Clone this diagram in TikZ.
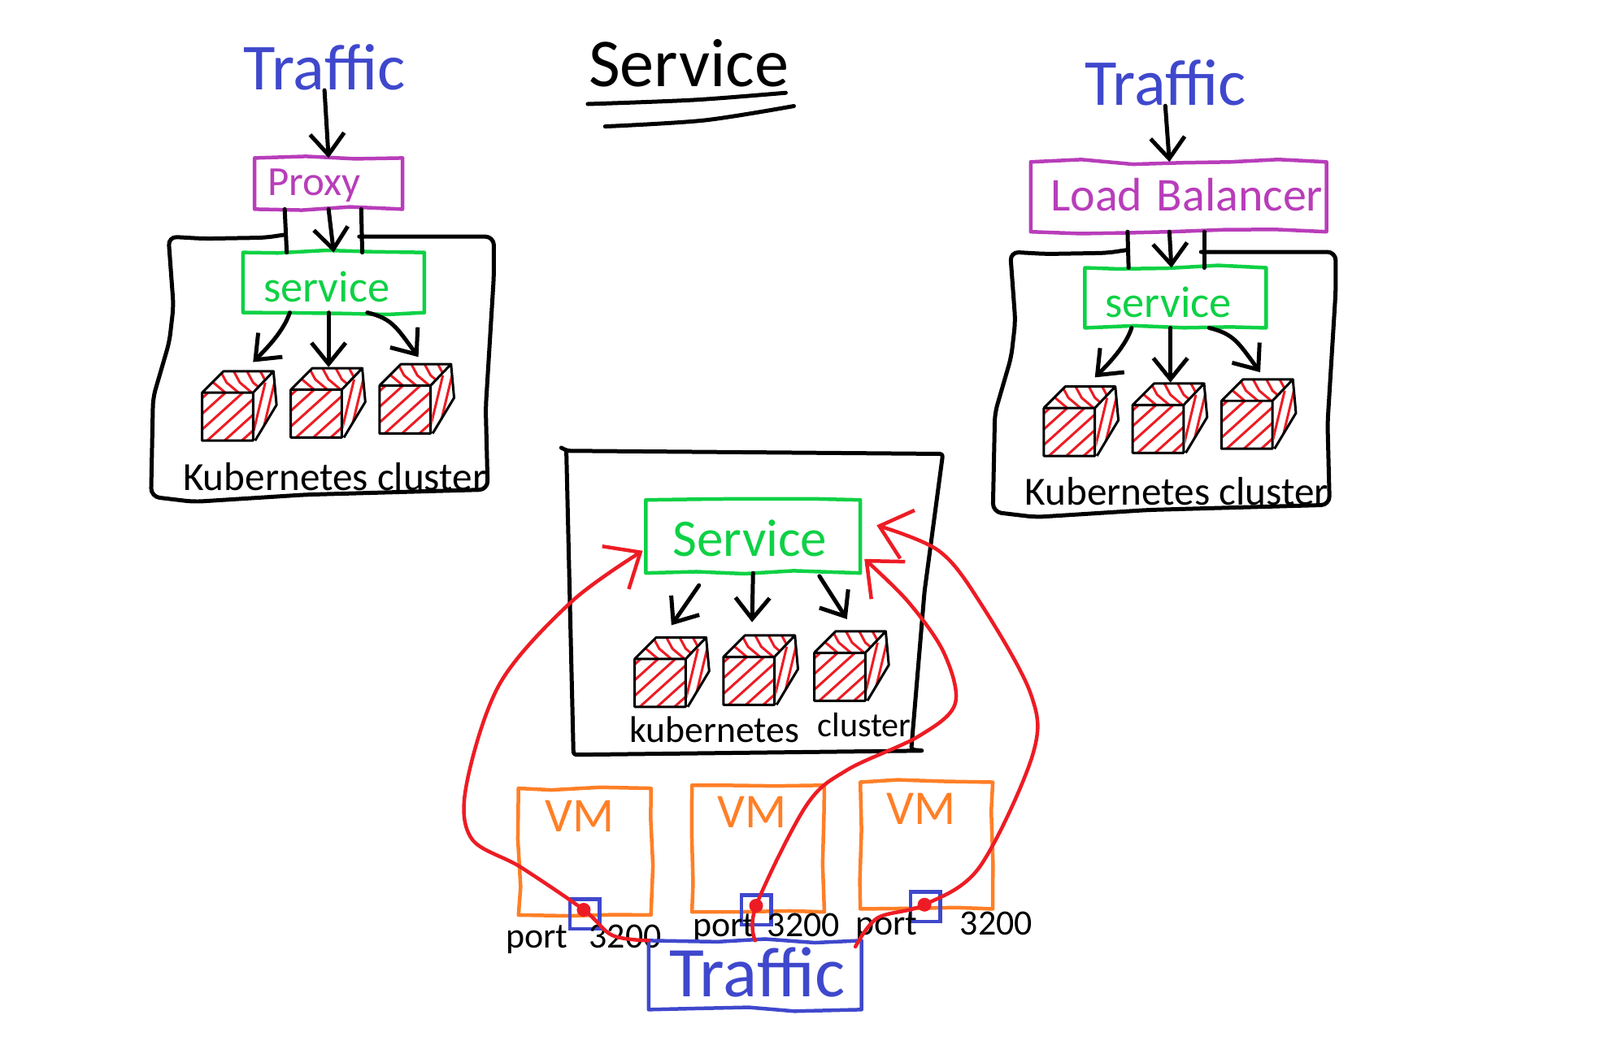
\documentclass[tikz,border=0pt]{standalone}
\usepackage{fontspec}
\setmainfont{Carlito}
\usepackage{xcolor}
\usetikzlibrary{arrows.meta}
\usetikzlibrary{calc}
\usetikzlibrary{decorations.pathmorphing}

\definecolor{handblue}{HTML}{3F48CC}
\definecolor{handpurple}{HTML}{B83DBA}
\definecolor{handgreen}{HTML}{0ED145}
\definecolor{handorange}{HTML}{FF7F27}
\definecolor{handred}{HTML}{ED1C24}

\newcommand{\fsize}[1]{\fontsize{#1}{#1}\selectfont}

\tikzset{
  wobbly/.style={draw, line width=0.045cm, line join=round, inner sep=0, outer sep=0,
    decorate, decoration={random steps, segment length=0.6cm, amplitude=0.3mm}},
  word/.style={inner sep=0, outer sep=0},
  edge/.style={line width=0.05cm, line cap=round},
  arrow/.style={edge, -{Straight Barb[length=0.26cm, width=0.42cm]}},
  frame/.style={line width=0.05cm, line cap=round, line join=round, rounded corners=3pt},
  hatch/.style={handred, line width=0.03cm},
  redline/.style={handred, line width=0.045cm, line cap=round,
    -{Straight Barb[length=0.36cm, width=0.62cm]}},
  portbox/.style={draw=handblue, line width=0.045cm, inner sep=0, minimum size=0.365cm},
  reddot/.style={circle, fill=handred, inner sep=0, minimum size=0.17cm},
  vmbox/.style={wobbly, handorange, minimum width=1.63cm, minimum height=1.56cm},
  vmword/.style={word, text=handorange, font=\fsize{17}},
  cube/.pic={
    % front face
    \begin{scope}
      \clip (0,0) rectangle (50,47);
      \foreach \s in {-46,-29,...,40} \draw[hatch] (\s,47) -- ++(52,-47);
    \end{scope}
    % top face
    \begin{scope}
      \clip (0,0) -- (21,-21) -- (70,-21) -- (50,0) -- cycle;
      \foreach \s in {4,17,...,64} \draw[hatch] (\s,-23) -- ++(7,13) -- ++(13,11);
    \end{scope}
    % side face
    \begin{scope}
      \clip (50,0) -- (70,-21) -- (73,12) -- (52,47) -- cycle;
      \foreach \s in {50,59,68} \draw[hatch] (\s,40) -- ++(12,-50);
    \end{scope}
    \draw[line width=0.03cm, line join=round]
      (0,0) rectangle (50,47)
      (0,0) -- (21,-21) -- (70,-21) -- (50,0)
      (70,-21) -- (73,12) -- (52,47);
  },
}

\begin{document}
\begin{tikzpicture}[x=0.012551cm, y=-0.012551cm]

  \useasboundingbox (0,0) rectangle (1568,1020);

  % title
  \node[word, font=\fsize{24}] (title) at (675,62) {Service};
  \draw[edge] plot[smooth] coordinates {(576,102) (680,98) (770,91)};
  \draw[edge] plot[smooth] coordinates {(593,124) (690,118) (778,104)};

  % traffic into the proxy
  \node[word, text=handblue, font=\fsize{23}] (trafficL) at (318,66) {Traffic};
  \node[wobbly, handpurple, minimum width=1.82cm, minimum height=0.63cm] (proxyL) at (322,180) {};
  \node[word, text=handpurple, font=\fsize{14.5}] (proxytext) at (308,182) {Proxy};
  \draw[arrow] (trafficL.south) -- (proxyL.north);

  % traffic into the load balancer
  \node[word, text=handblue, font=\fsize{23}] (trafficR) at (1142,81) {Traffic};
  \node[wobbly, handpurple, minimum width=3.64cm, minimum height=0.86cm] (balancerR) at (1155,193) {};
  \node[word, text=handpurple, font=\fsize{16.5}] (balancertext) at (1163,191) {Load\hspace{0.3em}Balancer};
  \draw[arrow] ($(balancerR.north)+(-13,-55)$) -- ($(balancerR.north)+(-9,0)$);

  % both outer clusters
  \foreach \n/\dx/\dy in {L/0/0, R/825/15} {
    \begin{scope}[shift={(\dx,\dy)}]
      \draw[frame] (280,230) -- (260,233) -- (200,234) -- (165,232) -- (170,300) -- (166,335)
        -- (150,390) -- (148,487) -- (190,492) -- (300,485) -- (478,480) -- (476,400)
        -- (484,270) -- (484,232) -- (352,232);
      \node[wobbly, handgreen, minimum width=2.23cm, minimum height=0.74cm] (service\n) at (327,277) {};
      \node[word, text=handgreen, font=\fsize{15.5}] (servicetext\n) at (320,281) {service};
      \pic at (198,385) {cube};
      \pic at (285,382) {cube};
      \pic at (372,378) {cube};
      \node[word, font=\fsize{14}] (clustertext\n) at (328,467) {Kubernetes cluster};
      \draw[arrow] ($(service\n.south)+(-43,0)$) .. controls +(-6,18) and +(14,-14) .. (248,355);
      \draw[arrow] ($(service\n.south)+(-5,0)$) -- (322,360);
      \draw[arrow] ($(service\n.south)+(33,0)$) .. controls +(24,6) and +(-22,-30) .. (410,350);
    \end{scope}
  }

  % feeds through the cluster top
  \draw[arrow] (proxyL.south) -- (serviceL.north);
  \draw[edge] ($(proxyL.south)+(-43,0)$) -- ($(serviceL.north)+(-46,0)$);
  \draw[edge] ($(proxyL.south)+(32,0)$) -- ($(serviceL.north)+(28,0)$);
  \draw[arrow] ($(balancerR.south)+(-9,0)$) -- ($(serviceR.north)+(-4,0)$);
  \draw[edge] ($(balancerR.south)+(-50,0)$) -- ($(serviceR.north)+(-46,0)$);
  \draw[edge] ($(balancerR.south)+(25,0)$) -- ($(serviceR.north)+(28,0)$);

  % middle cluster
  \draw[frame, rounded corners=1pt] (550,439) -- (556,442) -- (924,445) -- (906,580) -- (893,735)
    -- (905,736) -- (562,740) -- (555,442);
  \node[wobbly, handgreen, minimum width=2.64cm, minimum height=0.9cm] (serviceC) at (738,526) {};
  \node[word, text=handgreen, font=\fsize{18.5}] (servicetextC) at (735,528) {Service};
  \pic at (622,646) {cube};
  \pic at (709,644) {cube};
  \pic at (798,640) {cube};
  \node[word, font=\fsize{13}] (kubetext) at (700,715) {kubernetes};
  \node[word, font=\fsize{12}] (clustertext) at (847,711) {cluster};
  \draw[arrow] ($(serviceC.south)+(-53,12)$) -- (658,613);
  \draw[arrow] (serviceC.south) -- (737,610);
  \draw[arrow] ($(serviceC.south)+(65,3)$) -- (830,607);

  % virtual machines and their ports
  \node[vmbox] (vmA) at (573,835) {};
  \node[vmbox] (vmB) at (743,832) {};
  \node[vmbox] (vmC) at (908,829) {};
  \node[vmword] (vmtextA) at (568,800) {VM};
  \node[vmword] (vmtextB) at (737,796) {VM};
  \node[vmword] (vmtextC) at (903,793) {VM};
  \node[portbox] (portA) at (573,896) {};
  \node[portbox] (portB) at (741,892) {};
  \node[portbox] (portC) at (907,889) {};
  \node[reddot] (dotA) at (572,892) {};
  \node[reddot] (dotB) at (741,888) {};
  \node[reddot] (dotC) at (906,887) {};
  \node[word, font=\fsize{12.5}] (porttextA) at (572,921) {port\hspace{0.6em}3200};
  \node[word, font=\fsize{12.5}] (porttextB) at (751,910) {port\hspace{0.35em}3200};
  \node[word, font=\fsize{12.5}] (porttextC) at (925,908) {port\hspace{1.2em}3200};

  % outside traffic
  \node[wobbly, handblue, minimum width=2.62cm, minimum height=0.85cm] (trafficbox) at (740,956) {};
  \node[word, text=handblue, font=\fsize{25}] (traffictext) at (742,953) {Traffic};

  % node ports forward to the service
  \draw[redline] plot[smooth, tension=0.55] coordinates {(trafficbox.north west) (600,917) (dotA)
    (510,850) (462,822) (457,770) (490,670) (560,590) ($(serviceC.west)+(-3,14)$)};
  \draw[redline] plot[smooth, tension=0.55] coordinates {(trafficbox.north) (dotB) (790,790)
    (830,755) (900,722) (936,690) (925,640) (890,590) ($(serviceC.east)+(4,22)$)};
  \draw[redline] plot[smooth, tension=0.55] coordinates {($(trafficbox.north east)+(-6,6)$) (860,900) (dotC)
    (960,850) (1012,740) (1010,680) (960,590) (920,540) ($(serviceC.east)+(16,-11)$)};

\end{tikzpicture}
\end{document}
